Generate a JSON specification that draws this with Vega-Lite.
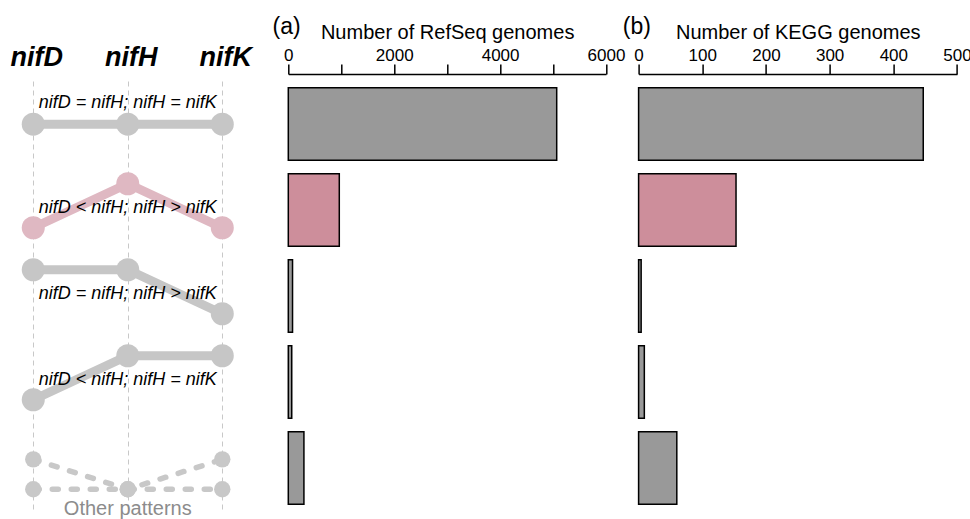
{
  "$schema": "https://vega.github.io/schema/vega-lite/v6.json",
  "background": "white",
  "padding": {"left": 5, "top": 16, "right": 0, "bottom": 0},
  "spacing": 32.3,
  "bounds": "flush",
  "resolve": {"scale": {"color": "independent", "yOffset": "independent"}},
  "config": {
    "font": "Liberation Sans",
    "view": {"stroke": null},
    "axis": {
      "labelColor": "black",
      "titleColor": "black",
      "domainColor": "black",
      "tickColor": "black"
    }
  },
  "datasets": {
    "nodes": [
      {"pattern": "nifD = nifH; nifH = nifK", "path": "p1", "gene": "nifD", "level": 0.4},
      {"pattern": "nifD = nifH; nifH = nifK", "path": "p1", "gene": "nifH", "level": 0.4},
      {"pattern": "nifD = nifH; nifH = nifK", "path": "p1", "gene": "nifK", "level": 0.4},
      {"pattern": "nifD < nifH; nifH > nifK", "path": "p2", "gene": "nifD", "level": 0},
      {"pattern": "nifD < nifH; nifH > nifK", "path": "p2", "gene": "nifH", "level": 1},
      {"pattern": "nifD < nifH; nifH > nifK", "path": "p2", "gene": "nifK", "level": 0},
      {"pattern": "nifD = nifH; nifH > nifK", "path": "p3", "gene": "nifD", "level": 1},
      {"pattern": "nifD = nifH; nifH > nifK", "path": "p3", "gene": "nifH", "level": 1},
      {"pattern": "nifD = nifH; nifH > nifK", "path": "p3", "gene": "nifK", "level": 0},
      {"pattern": "nifD < nifH; nifH = nifK", "path": "p4", "gene": "nifD", "level": 0},
      {"pattern": "nifD < nifH; nifH = nifK", "path": "p4", "gene": "nifH", "level": 1},
      {"pattern": "nifD < nifH; nifH = nifK", "path": "p4", "gene": "nifK", "level": 1},
      {"pattern": "Other patterns", "path": "p5a", "gene": "nifD", "level": 0.6},
      {"pattern": "Other patterns", "path": "p5a", "gene": "nifH", "level": -0.08},
      {"pattern": "Other patterns", "path": "p5a", "gene": "nifK", "level": 0.6},
      {"pattern": "Other patterns", "path": "p5b", "gene": "nifD", "level": -0.08},
      {"pattern": "Other patterns", "path": "p5b", "gene": "nifH", "level": -0.08},
      {"pattern": "Other patterns", "path": "p5b", "gene": "nifK", "level": -0.08}
    ],
    "counts": [
      {"pattern": "nifD = nifH; nifH = nifK", "refseq": 5069, "kegg": 447},
      {"pattern": "nifD < nifH; nifH > nifK", "refseq": 963, "kegg": 153},
      {"pattern": "nifD = nifH; nifH > nifK", "refseq": 80, "kegg": 4},
      {"pattern": "nifD < nifH; nifH = nifK", "refseq": 65, "kegg": 9},
      {"pattern": "Other patterns", "refseq": 295, "kegg": 60}
    ]
  },
  "hconcat": [
    {
      "width": 251,
      "height": 438,
      "encoding": {
        "x": {
          "field": "gene",
          "type": "nominal",
          "sort": ["nifD", "nifH", "nifK"],
          "scale": {"type": "point", "domain": ["nifD", "nifH", "nifK"], "padding": 0.328, "align": 0.456},
          "axis": {
            "orient": "top",
            "title": null,
            "domain": false,
            "ticks": false,
            "labelAngle": 0,
            "labelFontSize": 27,
            "labelFontWeight": "bold",
            "labelFontStyle": "italic",
            "labelPadding": 10,
            "labelOffset": 3,
            "grid": true,
            "gridDash": [5, 4],
            "gridColor": "#c8c8c8",
            "gridWidth": 1
          }
        },
        "y": {
          "field": "pattern",
          "type": "nominal",
          "sort": ["nifD = nifH; nifH = nifK", "nifD < nifH; nifH > nifK", "nifD = nifH; nifH > nifK", "nifD < nifH; nifH = nifK", "Other patterns"],
          "scale": {"type": "band", "paddingInner": 0.157, "paddingOuter": 0.0786, "range": [0, 430]},
          "axis": null
        }
      },
      "layer": [
        {
          "data": {"name": "nodes"},
          "transform": [{"filter": "datum.pattern !== 'Other patterns'"}],
          "mark": {"type": "line", "strokeWidth": 9},
          "encoding": {
            "yOffset": {"field": "level", "type": "quantitative", "scale": {"domain": [0, 1], "range": [54, 10]}},
            "color": {
              "field": "pattern",
              "type": "nominal",
              "scale": {
                "domain": ["nifD = nifH; nifH = nifK", "nifD < nifH; nifH > nifK", "nifD = nifH; nifH > nifK", "nifD < nifH; nifH = nifK", "Other patterns"],
                "range": ["#c6c6c6", "#dfb8c2", "#c6c6c6", "#c6c6c6", "#c8c8c8"]
              },
              "legend": null
            },
            "detail": {"field": "path"}
          }
        },
        {
          "data": {"name": "nodes"},
          "transform": [{"filter": "datum.pattern === 'Other patterns'"}],
          "mark": {"type": "line", "strokeWidth": 5.5, "strokeDash": [6, 13], "strokeCap": "round"},
          "encoding": {
            "yOffset": {"field": "level", "type": "quantitative"},
            "color": {"field": "pattern", "type": "nominal", "legend": null},
            "detail": {"field": "path"}
          }
        },
        {
          "data": {"name": "nodes"},
          "transform": [{"filter": "datum.pattern !== 'Other patterns'"}],
          "mark": {"type": "circle", "size": 530, "opacity": 1},
          "encoding": {
            "yOffset": {"field": "level", "type": "quantitative"},
            "color": {"field": "pattern", "type": "nominal", "legend": null}
          }
        },
        {
          "data": {"name": "nodes"},
          "transform": [{"filter": "datum.pattern === 'Other patterns'"}],
          "mark": {"type": "circle", "size": 270, "opacity": 1},
          "encoding": {
            "yOffset": {"field": "level", "type": "quantitative"},
            "color": {"field": "pattern", "type": "nominal", "legend": null}
          }
        },
        {
          "data": {"name": "counts"},
          "transform": [{"filter": "datum.pattern === 'nifD = nifH; nifH = nifK'"}],
          "mark": {"type": "text", "fontSize": 18, "fontStyle": "italic", "color": "black", "baseline": "middle"},
          "encoding": {
            "x": {"datum": "nifH"},
            "yOffset": {"datum": 0.886},
            "text": {"field": "pattern"}
          }
        },
        {
          "data": {"name": "counts"},
          "transform": [{"filter": "datum.pattern !== 'nifD = nifH; nifH = nifK' && datum.pattern !== 'Other patterns'"}],
          "mark": {"type": "text", "fontSize": 18, "fontStyle": "italic", "color": "black", "baseline": "middle"},
          "encoding": {
            "x": {"datum": "nifH"},
            "yOffset": {"datum": 0.443},
            "text": {"field": "pattern"}
          }
        },
        {
          "data": {"name": "counts"},
          "transform": [{"filter": "datum.pattern === 'Other patterns'"}],
          "mark": {"type": "text", "fontSize": 20, "color": "#8c8c8c", "baseline": "middle"},
          "encoding": {
            "x": {"datum": "nifH"},
            "yOffset": {"datum": -0.53},
            "text": {"field": "pattern"}
          }
        }
      ]
    },
    {
      "width": 317.7,
      "height": 430,
      "title": {"text": "(a)", "anchor": "start", "fontSize": 23, "fontWeight": "normal", "color": "black", "dx": -11, "dy": 21},
      "data": {"name": "counts"},
      "mark": {"type": "bar", "stroke": "black", "strokeWidth": 1.5},
      "encoding": {
        "y": {
          "field": "pattern",
          "type": "nominal",
          "sort": ["nifD = nifH; nifH = nifK", "nifD < nifH; nifH > nifK", "nifD = nifH; nifH > nifK", "nifD < nifH; nifH = nifK", "Other patterns"],
          "scale": {"type": "band", "paddingInner": 0.157, "paddingOuter": 0.0786},
          "axis": null
        },
        "x": {
          "field": "refseq",
          "type": "quantitative",
          "scale": {"domain": [0, 6000], "nice": false},
          "axis": {
            "orient": "top",
            "title": "Number of RefSeq genomes",
            "titleFontSize": 20,
            "titleFontWeight": "normal",
            "titlePadding": 4,
            "values": [0, 1000, 2000, 3000, 4000, 5000, 6000],
            "format": "d",
            "labelExpr": "datum.value % 2000 === 0 ? datum.label : ''",
            "labelFontSize": 17,
            "labelPadding": 0,
            "labelFlush": false,
            "offset": 7,
            "tickSize": 10,
            "tickWidth": 1.5,
            "domainWidth": 1.5,
            "grid": false
          }
        },
        "color": {
          "field": "pattern",
          "type": "nominal",
          "scale": {
            "domain": ["nifD = nifH; nifH = nifK", "nifD < nifH; nifH > nifK", "nifD = nifH; nifH > nifK", "nifD < nifH; nifH = nifK", "Other patterns"],
            "range": ["#999999", "#cd8e9b", "#999999", "#999999", "#999999"]
          },
          "legend": null
        }
      }
    },
    {
      "width": 318.4,
      "height": 430,
      "title": {"text": "(b)", "anchor": "start", "fontSize": 23, "fontWeight": "normal", "color": "black", "dx": -11, "dy": 21},
      "data": {"name": "counts"},
      "mark": {"type": "bar", "stroke": "black", "strokeWidth": 1.5},
      "encoding": {
        "y": {
          "field": "pattern",
          "type": "nominal",
          "sort": ["nifD = nifH; nifH = nifK", "nifD < nifH; nifH > nifK", "nifD = nifH; nifH > nifK", "nifD < nifH; nifH = nifK", "Other patterns"],
          "scale": {"type": "band", "paddingInner": 0.157, "paddingOuter": 0.0786},
          "axis": null
        },
        "x": {
          "field": "kegg",
          "type": "quantitative",
          "scale": {"domain": [0, 500], "nice": false},
          "axis": {
            "orient": "top",
            "title": "Number of KEGG genomes",
            "titleFontSize": 20,
            "titleFontWeight": "normal",
            "titlePadding": 4,
            "values": [0, 100, 200, 300, 400, 500],
            "format": "d",
            "labelFontSize": 17,
            "labelPadding": 0,
            "labelFlush": false,
            "offset": 7,
            "tickSize": 10,
            "tickWidth": 1.5,
            "domainWidth": 1.5,
            "grid": false
          }
        },
        "color": {
          "field": "pattern",
          "type": "nominal",
          "scale": {
            "domain": ["nifD = nifH; nifH = nifK", "nifD < nifH; nifH > nifK", "nifD = nifH; nifH > nifK", "nifD < nifH; nifH = nifK", "Other patterns"],
            "range": ["#999999", "#cd8e9b", "#999999", "#999999", "#999999"]
          },
          "legend": null
        }
      }
    }
  ]
}
